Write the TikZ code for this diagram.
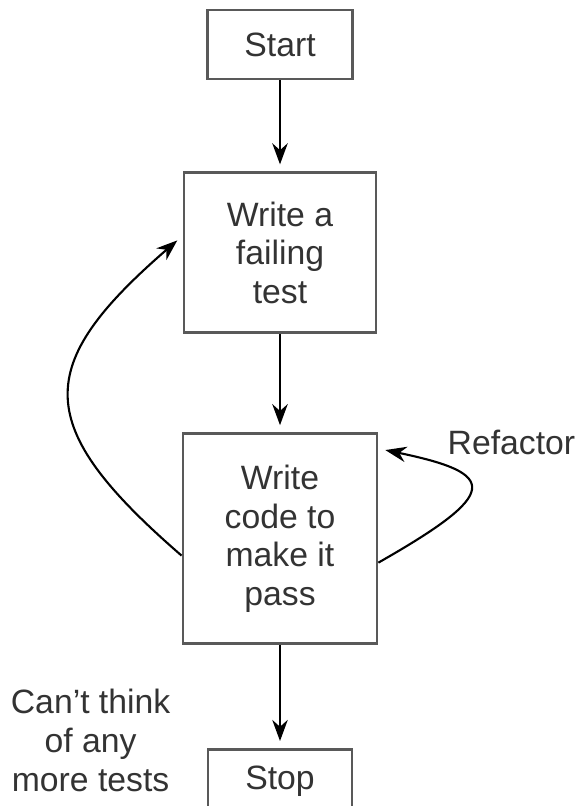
\documentclass[tikz,border=0pt]{standalone}
\usepackage{fontspec}
\setmainfont{Liberation Sans}
\usetikzlibrary{arrows.meta,positioning}

\begin{document}
\begin{tikzpicture}[->,>={Stealth[length=15pt,width=11pt]},shorten >=5pt,line width=1.5pt,
  box/.style={draw=black!65,line width=2pt,align=center,text=black!80,
    font=\fontsize{24}{27.5}\selectfont},
  note/.style={align=center,text=black!80,font=\fontsize{24}{27.5}\selectfont}]
  \useasboundingbox (0,0) rectangle (14.425,-20.15);

  \node[box,minimum width=3.625cm,minimum height=1.725cm] (start) at (7,-1.1125) {Start};
  \node[box,minimum width=4.8cm,minimum height=4cm] (test) [below=2.275cm of start] {Write a\\failing\\test};
  \node[box,minimum width=4.85cm,minimum height=5.25cm] (code) [below=2.45cm of test] {Write\\code to\\make it\\pass};
  \node[box,minimum width=3.6cm,minimum height=1.6cm] (stop) [below=2.575cm of code] {Stop};

  \node[note] (refactor) at ([xshift=3.325cm,yshift=-0.25cm]code.north east) {Refactor};
  \node[note] (cant) at ([xshift=-2.9cm,yshift=1.025cm]stop.west) {Can't think\\of any\\more tests};

  \path (start) edge (test)
        (test)  edge (code)
        (code)  edge (stop);
  \draw ([yshift=-0.425cm]code.west) .. controls +(-3.75,3.25) and +(-3.75,-3.25) .. ([yshift=0.425cm]test.west);
  \draw ([yshift=-0.6cm]code.east) .. controls +(3.075,1.75) and +(3.0,-0.625) .. ([yshift=2.25cm]code.east);
\end{tikzpicture}
\end{document}
